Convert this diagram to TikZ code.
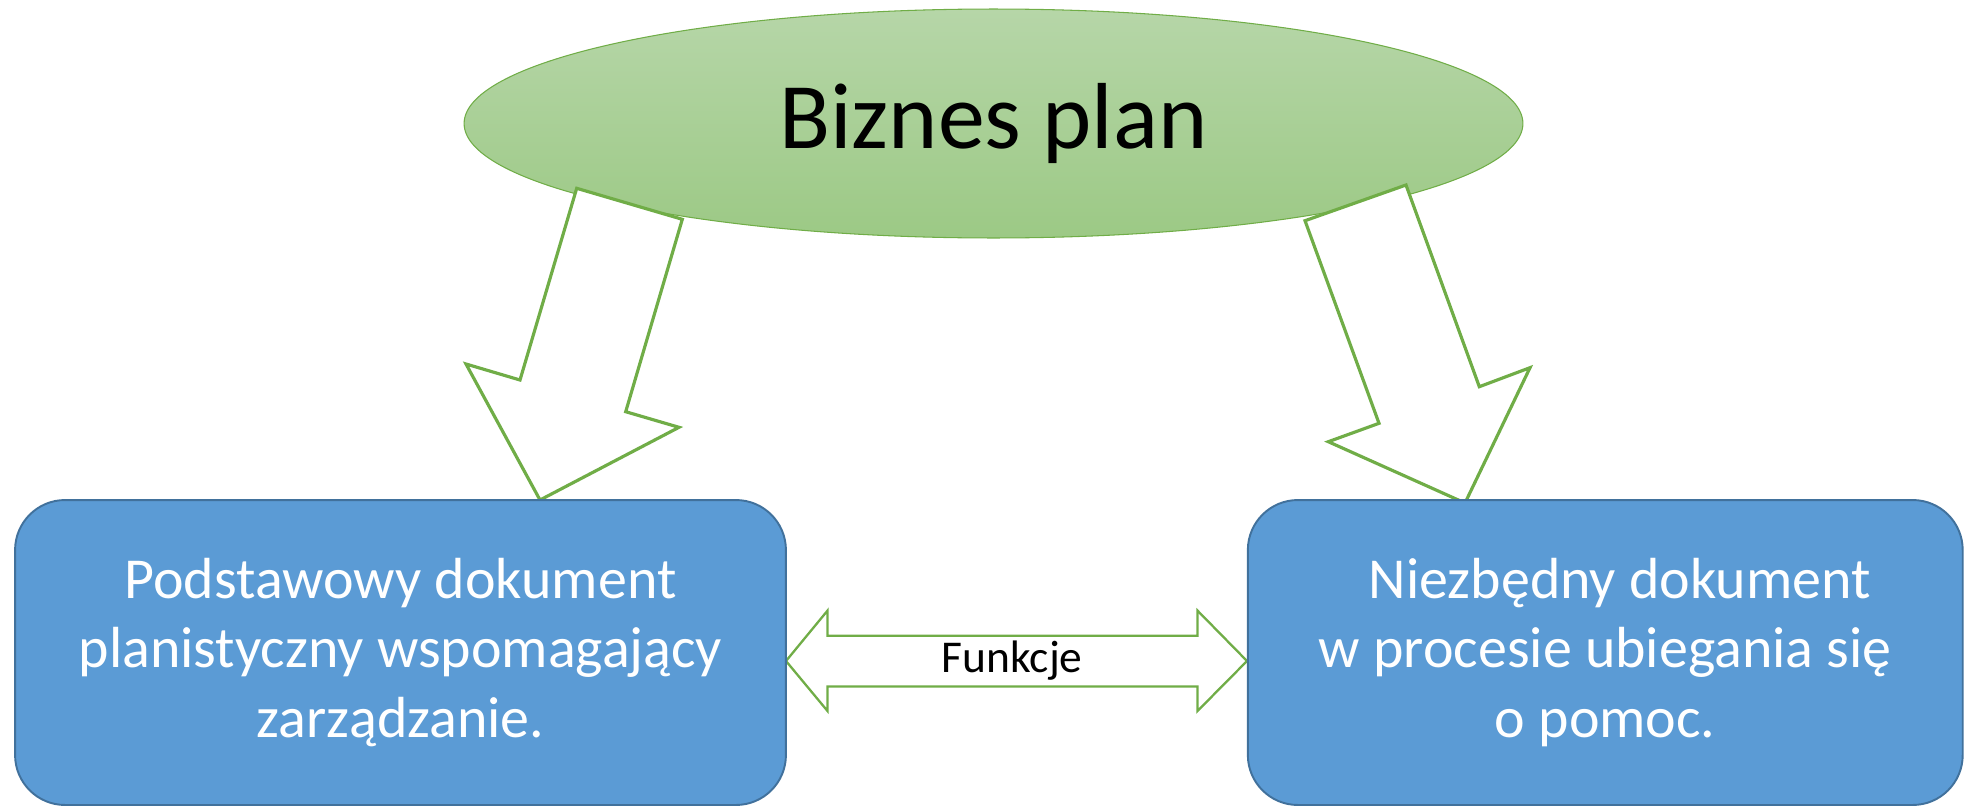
\documentclass[tikz,border=0pt]{standalone}
\usepackage{fontspec}
\setmainfont{Carlito}
\usetikzlibrary{shapes.geometric,positioning}
\definecolor{leafgreen}{HTML}{70AD47}
\definecolor{ovaltop}{HTML}{B6D6A8}
\definecolor{ovalbottom}{HTML}{9CC985}
\definecolor{docblue}{HTML}{5B9BD5}
\definecolor{docedge}{HTML}{41719C}
\begin{document}
\begin{tikzpicture}[
    x=0.02cm, y=-0.02cm,
    node distance=24.1cm,
    plan/.style={ellipse, draw=leafgreen, line width=0.6pt, top color=ovaltop, bottom color=ovalbottom, minimum width=21.18cm, minimum height=4.58cm, inner sep=0pt, font=\fontsize{53.4}{60}\selectfont},
    doc/.style={rectangle, rounded corners=1cm, draw=docedge, line width=1.1pt, fill=docblue, text=white, minimum height=6.1cm, align=center, font=\fontsize{33}{39.8}\selectfont},
    fatarrow/.style={draw=leafgreen, line width=1.8pt, fill=white, line join=miter}
]
    \useasboundingbox (0,0) rectangle (1966,808);

    % Top oval
    \node[plan] (plan) at (993.5,123.5) {Biznes plan};

    % Left block arrow
    \draw[fatarrow] (576.7,188.3) -- (682.3,219.3) -- (625.7,411.7) -- (679,427.3) -- (540,500) -- (466,364) -- (520,380) -- cycle;

    % Right block arrow
    \draw[fatarrow] (1305,220.7) -- (1406,185) -- (1479.3,386.7) -- (1530,367.7) -- (1465,503) -- (1328.3,441.7) -- (1379,423.3) -- cycle;

    % Double arrow between the boxes
    \draw[fatarrow, line width=1.3pt] (786,661) -- (827.5,610.6) -- (827.5,635.7) -- (1197.5,635.7) -- (1197.5,610.6) -- (1247,661)
        -- (1197.5,711) -- (1197.5,686.5) -- (827.5,686.5) -- (827.5,711) -- cycle;

    % Boxes
    \node[doc, minimum width=15.42cm] (basic) at (400.5,652.5) {Podstawowy dokument\\planistyczny wspomagający\\zarządzanie.};
    \node[doc, minimum width=14.3cm, right of=basic] (needed) {\hspace*{0.5em}Niezbędny dokument\\w procesie ubiegania się\\o pomoc.};

    % Label
    \node[font=\fontsize{25.9}{30}\selectfont] (funkcje) at (1012,661) {Funkcje};
\end{tikzpicture}
\end{document}
